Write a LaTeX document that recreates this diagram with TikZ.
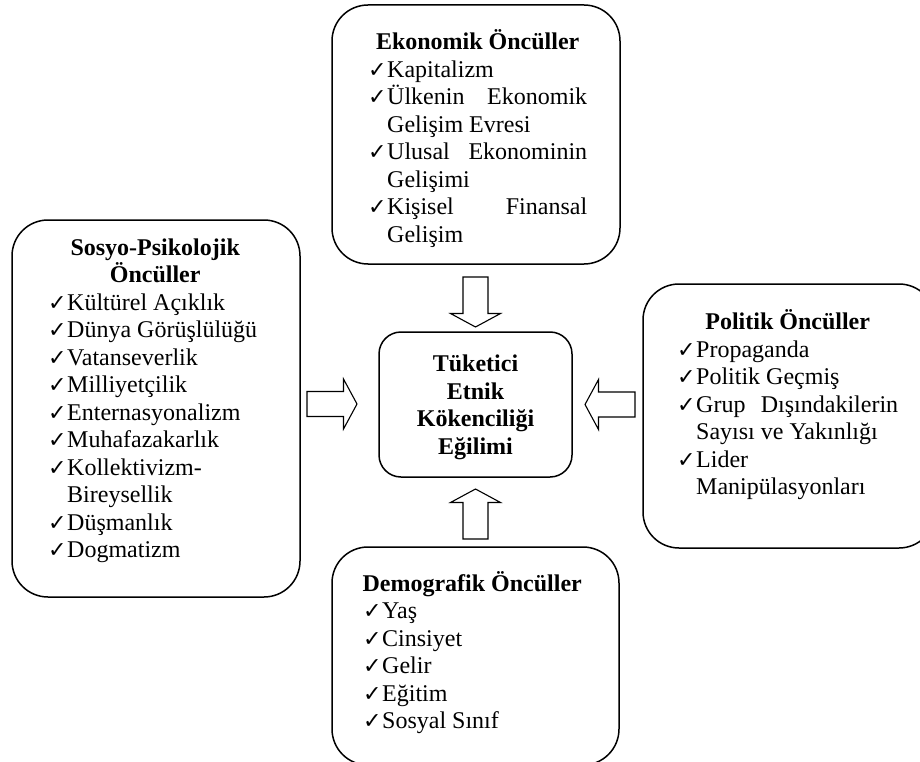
\documentclass[tikz,border=0pt]{standalone}
\usepackage{graphicx}
\usepackage{fontspec}
\setmainfont{Liberation Serif}
\newfontfamily\symfont{DejaVu Sans}
\newcommand{\ck}{\makebox[19pt][l]{\resizebox{18.5pt}{14pt}{\symfont ✓}}}
\newcommand{\itm}[1]{\noindent\hangindent=19pt\hangafter=1\relax\ck #1\par}
\newcommand{\hdr}[1]{\noindent\makebox[\linewidth][c]{\bfseries #1}\par}
\AtBeginDocument{\hyphenpenalty=10000\relax}
\tikzset{
  box/.style={draw, line width=1.5pt, rounded corners=36pt, inner sep=0pt},
  txt/.style={anchor=base west, inner sep=0pt, align=justify,
    font=\fontsize{24}{27.5}\selectfont},
  blk/.style={draw, line width=1.1pt, line join=miter},
  pics/barrow/.style={code={
    \draw[blk] (0,-12.5) -- (36.5,-12.5) -- (36.5,-25) -- (50,0) -- (36.5,25)
      -- (36.5,12.5) -- (0,12.5) -- cycle;}}
}
\begin{document}
\begin{tikzpicture}[x=1pt,y=-1pt]
\useasboundingbox (0,0) rectangle (920,762);
\clip (0,0) rectangle (920,762);
% boxes
\node[box, minimum width=288pt, minimum height=259pt] (eco) at (476,134.5) {};
\node[box, minimum width=288pt, minimum height=377pt] (sos) at (156,408.5) {};
\node[box, rounded corners=22pt, minimum width=193pt, minimum height=145pt] (cen) at (475.5,404.5) {};
\node[box, minimum width=292pt, minimum height=264pt] (pol) at (789,416) {};
\node[box, minimum width=287pt, minimum height=218pt] (dem) at (475.5,656) {};
% texts
\node[txt, text width=219pt] (ecot) at (368,50) {%
\hdr{Ekonomik Öncüller}
\itm{Kapitalizm}
\itm{Ülkenin Ekonomik\linebreak Gelişim Evresi}
\itm{Ulusal Ekonominin\linebreak Gelişimi}
\itm{Kişisel Finansal\linebreak Gelişim}};
\node[txt, text width=214pt] (sost) at (48,255) {%
\hdr{Sosyo-Psikolojik}
\hdr{Öncüller}
\itm{Kültürel Açıklık}
\itm{Dünya Görüşlülüğü}
\itm{Vatanseverlik}
\itm{Milliyetçilik}
\itm{Enternasyonalizm}
\itm{Muhafazakarlık}
\itm{Kollektivizm-\newline Bireysellik}
\itm{Düşmanlık}
\itm{Dogmatizm}};
\node[txt, text width=221pt] (polt) at (677,329.5) {%
\hdr{Politik Öncüller}
\itm{Propaganda}
\itm{Politik Geçmiş}
\itm{Grup Dışındakilerin\linebreak Sayısı ve Yakınlığı}
\itm{Lider\newline Manipülasyonları}};
\node[txt, text width=218pt] (demt) at (363,591) {%
\hdr{Demografik Öncüller}
\itm{Yaş}
\itm{Cinsiyet}
\itm{Gelir}
\itm{Eğitim}
\itm{Sosyal Sınıf}};
\node[txt, anchor=base, align=center, text width=193pt] (cent) at (475.5,371.7) {%
\bfseries Tüketici\\Etnik\\Kökenciliği\\Eğilimi};
% block arrows
\pic[rotate=-90] at (475.5,277) {barrow};
\pic[rotate=0] at (307,404) {barrow};
\pic[rotate=180] at (635,404.5) {barrow};
\pic[rotate=90] at (475.5,539) {barrow};
\end{tikzpicture}
\end{document}
